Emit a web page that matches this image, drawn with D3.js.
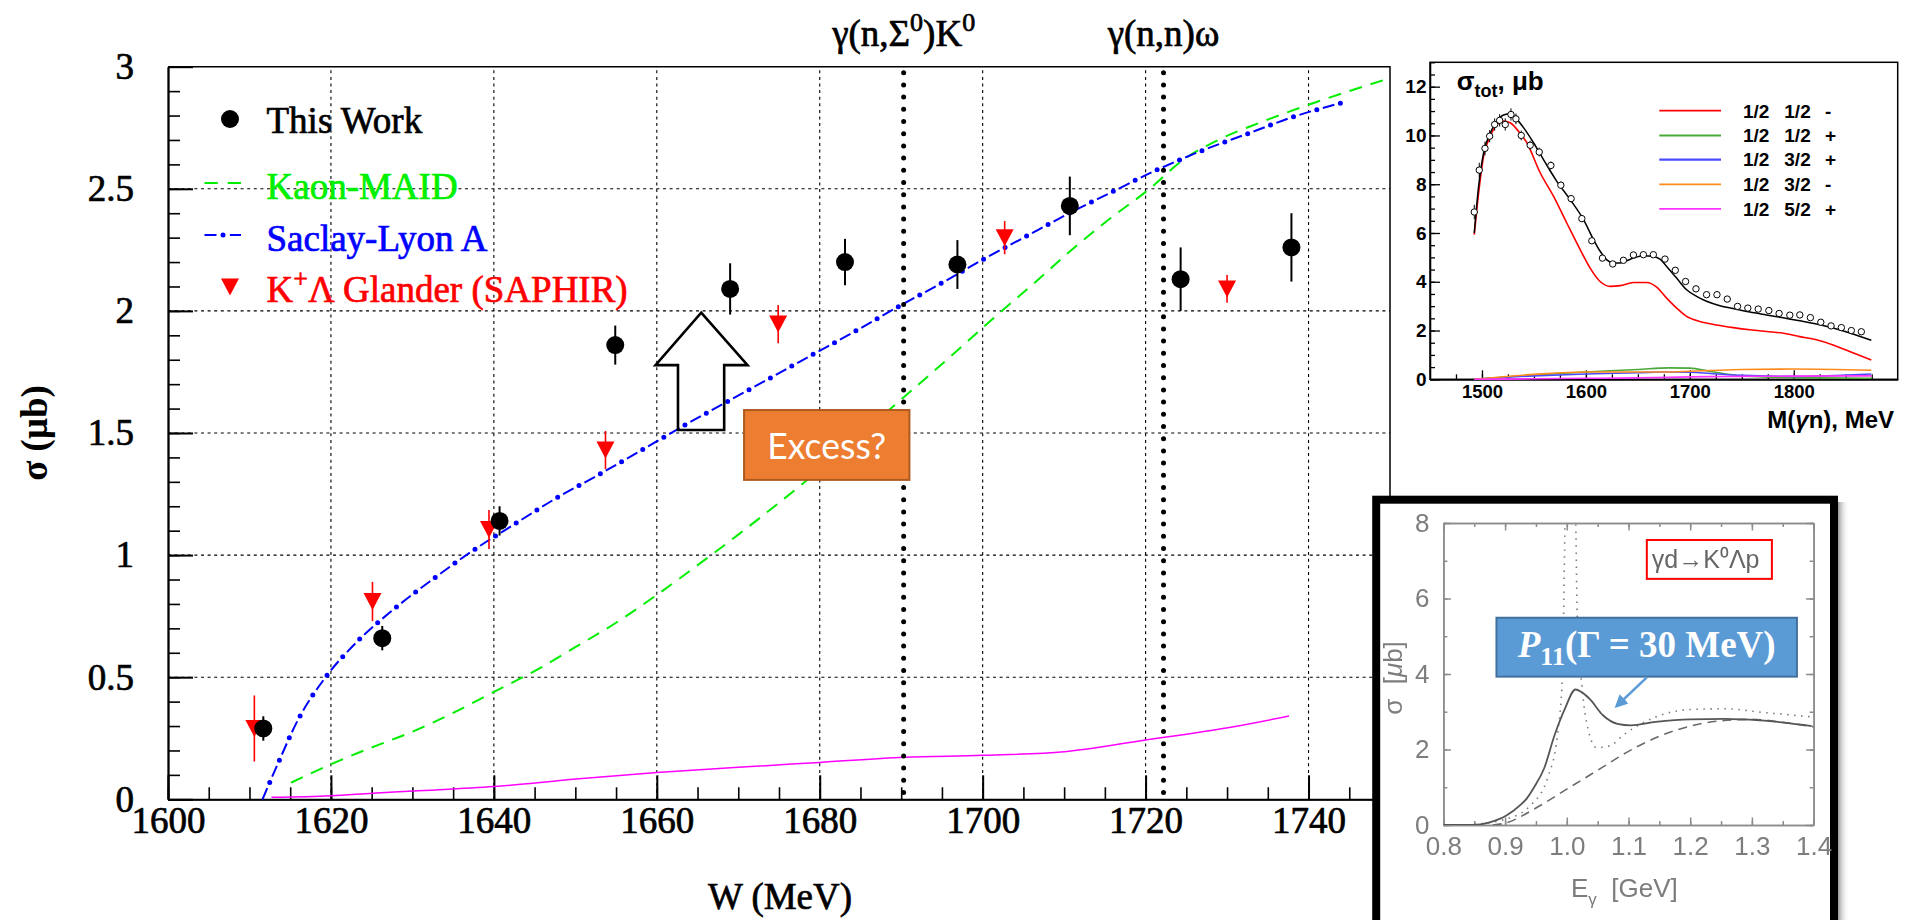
<!DOCTYPE html>
<html>
<head>
<meta charset="utf-8">
<script src="https://cdn.jsdelivr.net/npm/d3@7/dist/d3.min.js"></script>
<style>
  html, body { margin: 0; padding: 0; background: #fff; }
  svg { display: block; }
</style>
</head>
<body>
<svg id="fig" width="1905" height="920"></svg>
<script>
// ===================== Main panel: γn → K0Λ cross section =====================
const wTicks = [1600, 1620, 1640, 1660, 1680, 1700, 1720, 1740];
const sigmaTicks = [0, 0.5, 1, 1.5, 2, 2.5, 3];

// "This Work" measurement
const thisWorkW     = [1611.7, 1626.3, 1640.7, 1654.9, 1669.0, 1683.1, 1696.9, 1710.7, 1724.3, 1737.9];
const thisWorkSigma = [0.29, 0.66, 1.14, 1.86, 2.09, 2.20, 2.19, 2.43, 2.13, 2.26];
const thisWorkErr   = [0.05, 0.05, 0.06, 0.08, 0.105, 0.095, 0.10, 0.12, 0.13, 0.14];

// K+Λ, Glander (SAPHIR)
const glanderW     = [1610.6, 1625.1, 1639.4, 1653.7, 1674.9, 1702.7, 1730.0];
const glanderSigma = [0.29, 0.81, 1.105, 1.43, 1.946, 2.30, 2.09];
const glanderErr   = [0.135, 0.08, 0.08, 0.078, 0.078, 0.068, 0.057];

// Saclay-Lyon A model
const saclayW = [1611.6, 1613.5, 1616.0, 1619.3, 1623.2, 1627.7, 1632.5, 1637.4, 1642.5, 1647.5,
                 1652.8, 1658.0, 1663.1, 1668.4, 1673.7, 1678.9, 1684.1, 1689.3, 1694.7, 1699.9,
                 1705.1, 1710.4, 1715.7, 1721.1, 1726.6, 1732.3, 1738.0, 1744.6];
const saclaySigma = [0, 0.147, 0.328, 0.498, 0.645, 0.778, 0.901, 1.018, 1.126, 1.23,
                     1.328, 1.427, 1.526, 1.624, 1.721, 1.817, 1.912, 2.011, 2.109, 2.208,
                     2.301, 2.396, 2.484, 2.573, 2.652, 2.723, 2.793, 2.857];

// Kaon-MAID model
const maidW = [1615.1, 1617.8, 1620.1, 1624.9, 1629.8, 1634.9, 1640.0, 1645.2, 1650.1, 1655.0,
               1660.0, 1665.3, 1670.2, 1674.5, 1678.2, 1688.5, 1697.4, 1702.0, 1706.3, 1710.9,
               1715.4, 1720.3, 1724.6, 1728.9, 1733.8, 1739.3, 1744.8, 1750.0];
const maidSigma = [0.068, 0.11, 0.145, 0.211, 0.274, 0.352, 0.44, 0.529, 0.625, 0.723,
                   0.837, 0.966, 1.089, 1.201, 1.30, 1.594, 1.853, 1.99, 2.113, 2.249,
                   2.372, 2.495, 2.618, 2.70, 2.768, 2.836, 2.898, 2.953];

// unlabelled magenta curve
const magW     = [1612.7, 1620, 1625.1, 1630.1, 1640, 1650.1, 1660, 1670, 1680, 1690.4, 1700, 1710, 1720, 1730.1, 1737.6];
const magSigma = [0.008, 0.015, 0.025, 0.034, 0.052, 0.083, 0.11, 0.131, 0.151, 0.172, 0.18, 0.195, 0.243, 0.293, 0.341];

// reaction thresholds
const thresholdW = [1690.3, 1722.2];

// ===================== Upper inset: σ_tot(γn → ηn) =====================
const mTicks = [1500, 1600, 1700, 1800];
const stotTicks = [0, 2, 4, 6, 8, 10, 12];

const dataM = [1492.6, 1497.4, 1502.9, 1507.4, 1512.2, 1517.0, 1522.4, 1527.9, 1532.7, 1537.8,
               1546.4, 1555.1, 1566.3, 1575.9, 1585.8, 1596.1, 1605.7, 1615.9, 1625.8, 1636.1,
               1645.7, 1655.3, 1664.9, 1676.1, 1686.0, 1695.9, 1705.9, 1716.1, 1726.1, 1736.0,
               1745.9, 1755.8, 1765.8, 1776.0, 1785.9, 1796.2, 1805.8, 1816.0, 1826.0, 1835.9,
               1845.8, 1855.4, 1865.0];
const dataS = [6.86, 8.58, 9.47, 9.97, 10.45, 10.62, 10.45, 10.86, 10.68, 10.0,
               9.60, 9.32, 8.77, 7.96, 7.41, 6.59, 5.68, 4.97, 4.73, 4.88,
               5.10, 5.11, 5.11, 4.93, 4.47, 4.01, 3.71, 3.47, 3.47, 3.29,
               2.99, 2.92, 2.88, 2.82, 2.70, 2.63, 2.64, 2.53, 2.34, 2.19,
               2.12, 2.00, 1.95];
const dataE = [0.3, 0.3, 0.28, 0.25, 0.25, 0.25, 0.25, 0.25, 0.22, 0.2,
               0.18, 0.18, 0.16, 0.15, 0.15, 0.14, 0.12, 0.1, 0.1, 0.1,
               0.1, 0.1, 0.1, 0.1, 0.1, 0.08, 0.08, 0.08, 0.08, 0.08,
               0.07, 0.07, 0.07, 0.07, 0.07, 0.07, 0.07, 0.07, 0.07, 0.07,
               0.07, 0.07, 0.07];

const totalM = [1492.6, 1496.8, 1501.6, 1508, 1514.4, 1520.8, 1527.2, 1533.6, 1540, 1549.6,
                1559.2, 1572, 1584.9, 1597.7, 1607.3, 1613.7, 1620.1, 1626.5, 1632.9, 1639.3,
                1645.7, 1655.3, 1664.9, 1671.3, 1677.7, 1687.3, 1696.9, 1706.5, 1716.1, 1728.9,
                1741.8, 1757.8, 1773.8, 1789.8, 1805.8, 1821.8, 1837.8, 1853.8, 1874.6];
const totalS = [6.0, 7.92, 9.29, 10.1, 10.59, 10.84, 10.89, 10.66, 10.32, 9.70,
                9.01, 8.12, 7.37, 6.55, 5.73, 5.25, 4.90, 4.77, 4.77, 4.86,
                4.97, 5.07, 5.04, 4.93, 4.63, 4.15, 3.67, 3.40, 3.20, 3.02,
                2.90, 2.76, 2.64, 2.52, 2.40, 2.27, 2.10, 1.90, 1.60];

const s11M = [1492.6, 1496.8, 1501.6, 1508, 1514.4, 1520.8, 1527.2, 1533.6, 1543.2, 1556,
              1568.8, 1581.6, 1594.5, 1604.1, 1613.7, 1623.3, 1632.9, 1645.7, 1658.5, 1668.1,
              1677.7, 1687.3, 1696.9, 1709.7, 1725.7, 1741.8, 1757.8, 1773.8, 1789.8, 1805.8,
              1821.8, 1837.8, 1853.8, 1874.6];
const s11S = [5.93, 7.64, 9.15, 9.97, 10.45, 10.59, 10.52, 10.25, 9.70, 8.47,
              7.51, 6.41, 5.32, 4.56, 4.01, 3.81, 3.84, 3.97, 3.97, 3.78,
              3.33, 2.92, 2.58, 2.37, 2.23, 2.12, 2.03, 1.96, 1.89, 1.75,
              1.62, 1.41, 1.14, 0.79];

const smallM  = [1492.6, 1550, 1600, 1650, 1680, 1700, 1720, 1750, 1800, 1874.6];
const p11S    = [0, 0.18, 0.30, 0.40, 0.47, 0.46, 0.32, 0.14, 0.07, 0.04];
const p13S    = [0, 0.14, 0.22, 0.27, 0.30, 0.29, 0.24, 0.16, 0.12, 0.22];
const d13S    = [0, 0.20, 0.30, 0.30, 0.30, 0.33, 0.36, 0.40, 0.42, 0.37];
const f15S    = [0, 0.02, 0.04, 0.06, 0.08, 0.10, 0.11, 0.12, 0.13, 0.14];

const pwLabels = [['1/2', '1/2', '-'], ['1/2', '1/2', '+'], ['1/2', '3/2', '+'], ['1/2', '3/2', '-'], ['1/2', '5/2', '+']];
const pwColors = ['#ff0000', '#4aa83a', '#4b4bff', '#ff8a1c', '#ff33ff'];

// ===================== Lower inset: γd → K0Λp =====================
const eTicks = [0.8, 0.9, 1.0, 1.1, 1.2, 1.3, 1.4];
const kTicks = [0, 2, 4, 6, 8];

const fullE = [0.8, 0.847, 0.875, 0.902, 0.924, 0.935, 0.947, 0.963, 0.980, 0.997, 1.014, 1.024, 1.037,
               1.059, 1.082, 1.104, 1.144, 1.2, 1.256, 1.313, 1.397];
const fullS = [0, 0, 0.07, 0.25, 0.52, 0.70, 1.0, 1.49, 2.37, 3.08, 3.59, 3.52, 3.34,
               2.90, 2.68, 2.64, 2.73, 2.80, 2.81, 2.77, 2.62];
const bgE = [0.88, 0.9, 0.95, 1.0, 1.05, 1.1, 1.15, 1.2, 1.25, 1.3, 1.35, 1.4];
const bgS = [0, 0.05, 0.45, 0.95, 1.45, 1.95, 2.35, 2.62, 2.76, 2.80, 2.72, 2.60];
const narrowE = [0.85, 0.9, 0.94, 0.97, 0.985, 0.993, 0.9985, 1.0135, 1.017, 1.025, 1.035, 1.048,
                 1.07, 1.093, 1.144, 1.2, 1.256, 1.313, 1.4];
const narrowS = [0.02, 0.15, 0.5, 1.3, 2.4, 4.0, 8.6, 8.6, 5.5, 3.6, 2.5, 2.05,
                 2.1, 2.4, 2.86, 3.06, 3.08, 2.99, 2.86];

// ------------------------------------------------------------------------------
const svg = d3.select('#fig');
const defs = svg.append('defs');
svg.append('rect').attr('width', 1905).attr('height', 920).attr('fill', '#fff');

const SERIF = "'Liberation Serif', 'Times New Roman', serif";
const SANS = "'Liberation Sans', Arial, sans-serif";

// text with super/subscript pieces; each piece: {t, dy (offset from baseline), size, style, weight}
function richText(parent, x, y, pieces, attrs) {
  const t = parent.append('text').attr('x', x).attr('y', y);
  Object.entries(attrs || {}).forEach(([k, v]) => t.attr(k, v));
  let cur = 0;
  pieces.forEach(p => {
    const off = p.dy || 0;
    const ts = t.append('tspan').text(p.t).attr('dy', off - cur);
    if (p.size) ts.attr('font-size', p.size);
    if (p.style) ts.attr('font-style', p.style);
    if (p.weight) ts.attr('font-weight', p.weight);
    cur = off;
  });
  return t;
}

function styleAxis(g, font, size, weight, color, width) {
  g.attr('font-family', font).attr('font-size', size).attr('font-weight', weight).style('color', color);
  g.selectAll('line').attr('stroke-width', width);
  g.select('.domain').attr('stroke-width', width);
}

// slightly heavier glyphs for the serif labels
function heavy(sel, color, w) {
  sel.attr('stroke', color).attr('stroke-width', w).attr('stroke-linejoin', 'round');
}

// ===================== main panel =====================
const PM = { left: 168, right: 1390, top: 66.7, bottom: 799.3 };
const x = d3.scaleLinear().domain([1600, 1750]).range([PM.left, PM.right]);
const y = d3.scaleLinear().domain([0, 3]).range([PM.bottom, PM.top]);
const main = svg.append('g');

// dotted grid
main.append('g').selectAll('line').data(wTicks.slice(1)).join('line')
  .attr('x1', d => x(d)).attr('x2', d => x(d)).attr('y1', y(0)).attr('y2', y(3))
  .attr('stroke', '#000').attr('stroke-width', 1.1).attr('stroke-dasharray', '3,3.6');
main.append('g').selectAll('line').data(sigmaTicks.slice(1, -1)).join('line')
  .attr('x1', x(1600)).attr('x2', x(1750)).attr('y1', d => y(d)).attr('y2', d => y(d))
  .attr('stroke', '#000').attr('stroke-width', 1.1).attr('stroke-dasharray', '3,3.6');

// frame
main.append('path')
  .attr('d', `M${x(1600)},${y(3)}H${x(1750)}V${y(0)}`)
  .attr('fill', 'none').attr('stroke', '#000').attr('stroke-width', 1.5);

// axes (minor + major ticks drawn inward)
const xMinor = main.append('g').attr('transform', `translate(0,${y(0)})`)
  .call(d3.axisBottom(x).tickValues(d3.range(1600, 1751, 5)).tickSize(-12).tickSizeOuter(0).tickFormat(''));
styleAxis(xMinor, SERIF, 37, 'normal', '#000', 1.6);
const xAxis = main.append('g').attr('transform', `translate(0,${y(0)})`)
  .call(d3.axisBottom(x).tickValues(wTicks).tickSize(-24).tickSizeOuter(0).tickPadding(7).tickFormat(d3.format('d')));
styleAxis(xAxis, SERIF, 37, 'normal', '#000', 2);
heavy(xAxis.selectAll('text'), '#000', 0.7);

const yMinor = main.append('g').attr('transform', `translate(${x(1600)},0)`)
  .call(d3.axisLeft(y).tickValues(d3.range(0, 3.001, 0.1)).tickSize(-12).tickSizeOuter(0).tickFormat(''));
styleAxis(yMinor, SERIF, 37, 'normal', '#000', 1.6);
const yAxis = main.append('g').attr('transform', `translate(${x(1600)},0)`)
  .call(d3.axisLeft(y).tickValues(sigmaTicks).tickSize(-25).tickSizeOuter(0).tickPadding(34).tickFormat(d => String(d)));
styleAxis(yAxis, SERIF, 37, 'normal', '#000', 2);
heavy(yAxis.selectAll('text'), '#000', 0.7);

// axis titles
heavy(main.append('text').attr('x', 780).attr('y', 909).attr('text-anchor', 'middle')
  .attr('font-family', SERIF).attr('font-size', 37).text('W (MeV)'), '#000', 0.7);
main.append('text').attr('transform', `translate(47,${(PM.top + PM.bottom) / 2}) rotate(-90)`)
  .attr('text-anchor', 'middle').attr('font-family', SERIF).attr('font-size', 37).attr('font-weight', 'bold')
  .text('σ (μb)');

// model curves
const lineMain = d3.line().x(d => x(d[0])).y(d => y(d[1])).curve(d3.curveMonotoneX);
const magPts = magW.map((w, i) => [w, magSigma[i]]);
const maidPts = maidW.map((w, i) => [w, maidSigma[i]]);
const saclayPts = saclayW.map((w, i) => [w, saclaySigma[i]]);

main.append('path').attr('d', lineMain(magPts)).attr('fill', 'none')
  .attr('stroke', '#ff00ff').attr('stroke-width', 1.5);
main.append('path').attr('d', lineMain(maidPts)).attr('fill', 'none')
  .attr('stroke', '#00ee00').attr('stroke-width', 2).attr('stroke-dasharray', '13,9');
// dash-dot: thin dashes plus round dots in the gaps
main.append('path').attr('d', lineMain(saclayPts)).attr('fill', 'none')
  .attr('stroke', '#0000ff').attr('stroke-width', 2).attr('stroke-dasharray', '12,12.4');
main.append('path').attr('d', lineMain(saclayPts)).attr('fill', 'none')
  .attr('stroke', '#0000ff').attr('stroke-width', 5).attr('stroke-linecap', 'round')
  .attr('stroke-dasharray', '0,24.4').attr('stroke-dashoffset', 24.4 - 18.2);

// threshold markers
main.append('g').selectAll('line').data(thresholdW).join('line')
  .attr('x1', d => x(d)).attr('x2', d => x(d)).attr('y1', y(3) + 6).attr('y2', y(0))
  .attr('stroke', '#000').attr('stroke-width', 5).attr('stroke-linecap', 'round')
  .attr('stroke-dasharray', '0,12.2');
heavy(richText(main, x(thresholdW[0]), 46, [
  { t: 'γ(n,Σ' }, { t: '0', dy: -15, size: 26 }, { t: ')K' }, { t: '0', dy: -15, size: 26 }
], { 'text-anchor': 'middle', 'font-family': SERIF, 'font-size': 37 }), '#000', 0.7);
heavy(main.append('text').attr('x', x(thresholdW[1])).attr('y', 46).attr('text-anchor', 'middle')
  .attr('font-family', SERIF).attr('font-size', 37).text('γ(n,n)ω'), '#000', 0.7);

// Glander points
const gl = glanderW.map((w, i) => ({ w, s: glanderSigma[i], e: glanderErr[i] }));
main.append('g').selectAll('line').data(gl).join('line')
  .attr('x1', d => x(d.w)).attr('x2', d => x(d.w)).attr('y1', d => y(d.s - d.e)).attr('y2', d => y(d.s + d.e))
  .attr('stroke', '#ff0000').attr('stroke-width', 1.6);
const triDown = 'M-9,-8.5L9,-8.5L0,8.5Z';
main.append('g').selectAll('path').data(gl).join('path')
  .attr('d', triDown).attr('transform', d => `translate(${x(d.w)},${y(d.s)})`).attr('fill', '#ff0000');

// This Work points
const tw = thisWorkW.map((w, i) => ({ w, s: thisWorkSigma[i], e: thisWorkErr[i] }));
main.append('g').selectAll('line').data(tw).join('line')
  .attr('x1', d => x(d.w)).attr('x2', d => x(d.w)).attr('y1', d => y(d.s - d.e)).attr('y2', d => y(d.s + d.e))
  .attr('stroke', '#000').attr('stroke-width', 2);
main.append('g').selectAll('circle').data(tw).join('circle')
  .attr('cx', d => x(d.w)).attr('cy', d => y(d.s)).attr('r', 9).attr('fill', '#000');

// legend
const lg = main.append('g').attr('font-family', SERIF).attr('font-size', 37);
lg.append('circle').attr('cx', 230).attr('cy', 119).attr('r', 9).attr('fill', '#000');
heavy(lg.append('text').attr('x', 266.5).attr('y', 133).text('This Work'), '#000', 0.7);
lg.append('line').attr('x1', 204.5).attr('x2', 241).attr('y1', 183).attr('y2', 183)
  .attr('stroke', '#00ee00').attr('stroke-width', 2).attr('stroke-dasharray', '13.3,9.9');
heavy(lg.append('text').attr('x', 266.5).attr('y', 199).attr('fill', '#00f000').text('Kaon-MAID'), '#00f000', 0.7);
lg.append('line').attr('x1', 204.5).attr('x2', 241).attr('y1', 235).attr('y2', 235)
  .attr('stroke', '#0000ff').attr('stroke-width', 2).attr('stroke-dasharray', '12,13.4,12');
lg.append('circle').attr('cx', 223).attr('cy', 235).attr('r', 2.5).attr('fill', '#0000ff');
heavy(lg.append('text').attr('x', 266.5).attr('y', 251).attr('fill', '#0000ff').text('Saclay-Lyon A'), '#0000ff', 0.7);
lg.append('path').attr('d', triDown).attr('transform', 'translate(230,287)').attr('fill', '#ff0000');
heavy(richText(lg, 266.5, 302, [
  { t: 'K' }, { t: '+', dy: -15, size: 26 }, { t: 'Λ Glander (SAPHIR)' }
], { fill: '#ff0000' }), '#ff0000', 0.7);

// "excess" annotation: hollow arrow and label box (data coordinates)
const arrowPts = [[1665.45, 1.993], [1671.14, 1.778], [1668.27, 1.778], [1668.27, 1.512],
                  [1662.60, 1.512], [1662.60, 1.778], [1659.84, 1.778]];
main.append('path').attr('d', 'M' + arrowPts.map(p => `${x(p[0])},${y(p[1])}`).join('L') + 'Z')
  .attr('fill', 'none').attr('stroke', '#000').attr('stroke-width', 2.6).attr('stroke-linejoin', 'miter');
main.append('rect').attr('x', x(1670.71)).attr('y', y(1.594))
  .attr('width', x(1691.01) - x(1670.71)).attr('height', y(1.308) - y(1.594))
  .attr('fill', '#ed7d31').attr('stroke', '#ae5a21').attr('stroke-width', 2);
main.append('text').attr('x', (x(1670.71) + x(1691.01)) / 2).attr('y', 459)
  .attr('text-anchor', 'middle').attr('font-family', "Lato, 'Open Sans', sans-serif").attr('font-size', 36)
  .attr('fill', '#fff').attr('textLength', 119).attr('lengthAdjust', 'spacingAndGlyphs').text('Excess?');

// ===================== upper inset =====================
const ix = d3.scaleLinear().domain([1450, 1900]).range([1430, 1897.7]);
const iy = d3.scaleLinear().domain([0, 13]).range([379.3, 62.3]);
const ins = svg.append('g');

ins.append('rect').attr('x', ix(1450)).attr('y', iy(13)).attr('width', ix(1900) - ix(1450))
  .attr('height', iy(0) - iy(13)).attr('fill', '#fff').attr('stroke', '#000').attr('stroke-width', 1.5);

const ixMinor = ins.append('g').attr('transform', `translate(0,${iy(0)})`)
  .call(d3.axisBottom(ix).tickValues(d3.range(1475, 1900, 25)).tickSize(-5).tickSizeOuter(0).tickFormat(''));
styleAxis(ixMinor, SANS, 18, 'bold', '#000', 1.3);
const ixAxis = ins.append('g').attr('transform', `translate(0,${iy(0)})`)
  .call(d3.axisBottom(ix).tickValues(mTicks).tickSize(-9).tickSizeOuter(0).tickPadding(6).tickFormat(d3.format('d')));
styleAxis(ixAxis, SANS, 18.5, 'bold', '#000', 1.3);
const iyMinor = ins.append('g').attr('transform', `translate(${ix(1450)},0)`)
  .call(d3.axisLeft(iy).tickValues(d3.range(0, 13.01, 0.5)).tickSize(-5).tickSizeOuter(0).tickFormat(''));
styleAxis(iyMinor, SANS, 18, 'bold', '#000', 1.3);
const iyAxis = ins.append('g').attr('transform', `translate(${ix(1450)},0)`)
  .call(d3.axisLeft(iy).tickValues(stotTicks).tickSize(-10).tickSizeOuter(0).tickPadding(3.5).tickFormat(d3.format('d')));
styleAxis(iyAxis, SANS, 19, 'bold', '#000', 1.3);

richText(ins, 1456.7, 90, [
  { t: 'σ' }, { t: 'tot', dy: 7, size: 18 }, { t: ', μb' }
], { 'font-family': SANS, 'font-size': 26, 'font-weight': 'bold' });
richText(ins, 1894, 428, [{ t: 'M(' }, { t: 'γ', style: 'italic' }, { t: 'n), MeV' }],
  { 'font-family': SANS, 'font-size': 24, 'font-weight': 'bold', 'text-anchor': 'end' });

const lineIns = d3.line().x(d => ix(d[0])).y(d => iy(d[1])).curve(d3.curveMonotoneX);
const smallSets = [p11S, p13S, d13S, f15S];
smallSets.forEach((s, k) => {
  ins.append('path').attr('d', lineIns(smallM.map((m, i) => [m, s[i]])))
    .attr('fill', 'none').attr('stroke', pwColors[k + 1]).attr('stroke-width', 1.6);
});
ins.append('path').attr('d', lineIns(s11M.map((m, i) => [m, s11S[i]])))
  .attr('fill', 'none').attr('stroke', pwColors[0]).attr('stroke-width', 1.6);
ins.append('path').attr('d', lineIns(totalM.map((m, i) => [m, totalS[i]])))
  .attr('fill', 'none').attr('stroke', '#000').attr('stroke-width', 1.5);

const idata = dataM.map((m, i) => ({ m, s: dataS[i], e: dataE[i] }));
ins.append('g').selectAll('line').data(idata).join('line')
  .attr('x1', d => ix(d.m)).attr('x2', d => ix(d.m)).attr('y1', d => iy(d.s - d.e)).attr('y2', d => iy(d.s + d.e))
  .attr('stroke', '#000').attr('stroke-width', 1);
ins.append('g').selectAll('circle').data(idata).join('circle')
  .attr('cx', d => ix(d.m)).attr('cy', d => iy(d.s)).attr('r', 3.2)
  .attr('fill', '#fff').attr('stroke', '#000').attr('stroke-width', 1);

const ilg = ins.append('g').attr('font-family', SANS).attr('font-size', 19).attr('font-weight', 'bold');
const rowY = [110.7, 135.5, 159.6, 184.3, 208.8];
pwLabels.forEach((lab, k) => {
  ilg.append('line').attr('x1', 1659.3).attr('x2', 1721).attr('y1', rowY[k]).attr('y2', rowY[k])
    .attr('stroke', pwColors[k]).attr('stroke-width', k === 2 ? 2.4 : 1.8);
  [1743, 1784.3, 1825].forEach((cx, j) => {
    ilg.append('text').attr('x', cx).attr('y', rowY[k] + 6.8).text(lab[j]);
  });
});

// ===================== lower inset =====================
const box = svg.append('g');
const shade = defs.append('linearGradient').attr('id', 'shade');
shade.append('stop').attr('offset', '0').attr('stop-color', '#9a9a9a');
shade.append('stop').attr('offset', '1').attr('stop-color', '#ffffff').attr('stop-opacity', 0);
box.append('rect').attr('x', 1838).attr('y', 502).attr('width', 11).attr('height', 420).attr('fill', 'url(#shade)');
box.append('rect').attr('x', 1376.2).attr('y', 499.7).attr('width', 457.8).attr('height', 440)
  .attr('fill', '#fff').attr('stroke', '#000').attr('stroke-width', 8);

defs.append('filter').attr('id', 'soft').append('feGaussianBlur').attr('stdDeviation', 0.55);
const bx = d3.scaleLinear().domain([0.8, 1.4]).range([1443.4, 1813.6]);
const by = d3.scaleLinear().domain([0, 8]).range([825, 523]);
const scan = box.append('g').attr('filter', 'url(#soft)');

scan.append('defs').append('clipPath').attr('id', 'bclip').append('rect')
  .attr('x', bx(0.8)).attr('y', by(8)).attr('width', bx(1.4) - bx(0.8)).attr('height', by(0) - by(8));

const GR = '#8c8c8c';
const bAx = [
  [() => d3.axisBottom(bx), `translate(0,${by(0)})`, eTicks, d3.range(0.8, 1.401, 0.05), d3.format('.1f'), 12],
  [() => d3.axisTop(bx), `translate(0,${by(8)})`, eTicks, d3.range(0.8, 1.401, 0.05), null, 0],
  [() => d3.axisLeft(by), `translate(${bx(0.8)},0)`, kTicks, d3.range(0, 8.01, 1), d3.format('d'), 14],
  [() => d3.axisRight(by), `translate(${bx(1.4)},0)`, kTicks, d3.range(0, 8.01, 1), null, 0]
];
bAx.forEach(([mk, tr, major, minor, fmt, pad]) => {
  const gMin = scan.append('g').attr('transform', tr)
    .call(mk().tickValues(minor).tickSize(-4).tickSizeOuter(0).tickFormat(''));
  styleAxis(gMin, SANS, 26, 'normal', GR, 1.5);
  const gMaj = scan.append('g').attr('transform', tr)
    .call(mk().tickValues(major).tickSize(-7.5).tickSizeOuter(0).tickPadding(pad).tickFormat(fmt ? fmt : ''));
  styleAxis(gMaj, SANS, 26, 'normal', GR, 1.5);
  gMaj.selectAll('text').attr('fill', '#7d7d7d');
});

richText(scan, 1571, 897, [{ t: 'E' }, { t: 'γ', dy: 8, size: 17 }, { t: '  [GeV]' }],
  { 'font-family': SANS, 'font-size': 26, fill: '#7d7d7d', 'xml:space': 'preserve' });
richText(scan, 0, 0, [{ t: 'σ  [' }, { t: 'μ', style: 'italic' }, { t: 'b]' }],
  { 'font-family': SANS, 'font-size': 26, fill: '#7d7d7d', 'text-anchor': 'middle',
    transform: 'translate(1402,678) rotate(-90)', 'xml:space': 'preserve' });

const lineBox = d3.line().x(d => bx(d[0])).y(d => by(d[1])).curve(d3.curveMonotoneX);
const curves = scan.append('g').attr('clip-path', 'url(#bclip)');
curves.append('path').attr('d', lineBox(bgE.map((e, i) => [e, bgS[i]])))
  .attr('fill', 'none').attr('stroke', '#6a6a6a').attr('stroke-width', 1.6).attr('stroke-dasharray', '9,6');
curves.append('path').attr('d', lineBox(narrowE.map((e, i) => [e, narrowS[i]])))
  .attr('fill', 'none').attr('stroke', '#7a7a7a').attr('stroke-width', 1.6).attr('stroke-dasharray', '1.5,5.5');
curves.append('path').attr('d', lineBox(fullE.map((e, i) => [e, fullS[i]])))
  .attr('fill', 'none').attr('stroke', '#555').attr('stroke-width', 1.8);

// reaction tag
scan.append('rect').attr('x', bx(1.1297)).attr('y', by(7.55)).attr('width', bx(1.3324) - bx(1.1297))
  .attr('height', by(6.52) - by(7.55)).attr('fill', 'none').attr('stroke', '#ff0000').attr('stroke-width', 2);
scan.append('text').attr('x', bx(1.1297) + 5).attr('y', 568)
  .attr('font-family', SANS).attr('font-size', 25).attr('fill', '#666').text('γd→K⁰Λp');

// P11 label with pointer
box.append('rect').attr('x', bx(0.886)).attr('y', by(5.49)).attr('width', bx(1.373) - bx(0.886))
  .attr('height', by(3.93) - by(5.49)).attr('fill', '#5b9bd5').attr('stroke', '#41719c').attr('stroke-width', 2);
richText(box, (bx(0.886) + bx(1.373)) / 2, 657, [
  { t: 'P', style: 'italic' }, { t: '11', dy: 8, size: 26 }, { t: '(Γ = 30 MeV)' }
], { 'font-family': SERIF, 'font-size': 37, 'font-weight': 'bold', fill: '#fff', 'text-anchor': 'middle' });

defs.append('marker').attr('id', 'ahead').attr('viewBox', '0 0 10 10').attr('refX', 8).attr('refY', 5)
  .attr('markerWidth', 5).attr('markerHeight', 5).attr('orient', 'auto')
  .append('path').attr('d', 'M0,0L10,5L0,10Z').attr('fill', '#5b9bd5');
box.append('line').attr('x1', bx(1.1297)).attr('y1', by(3.91)).attr('x2', bx(1.0806)).attr('y2', by(3.15))
  .attr('stroke', '#5b9bd5').attr('stroke-width', 2.6).attr('marker-end', 'url(#ahead)');
</script>
</body>
</html>
